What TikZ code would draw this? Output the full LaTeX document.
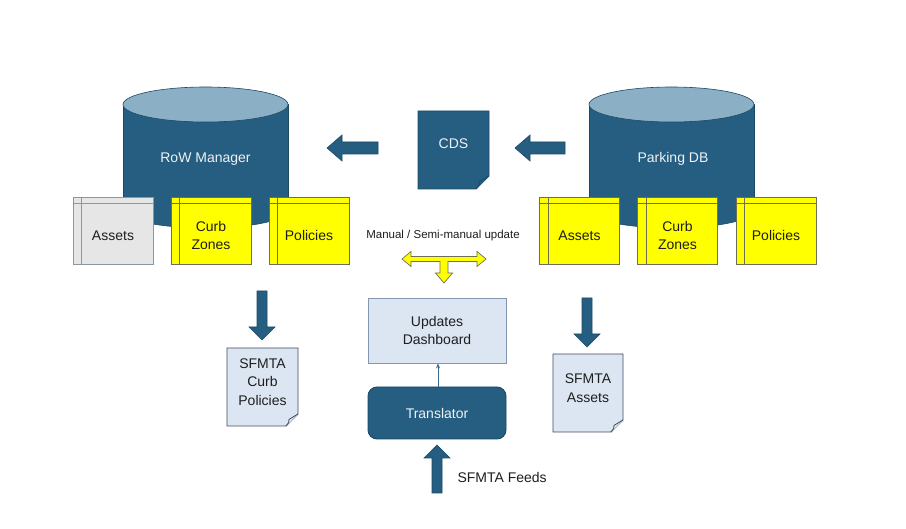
\documentclass[tikz,border=0pt]{standalone}
\usepackage{fontspec}
\setmainfont{Liberation Sans}
\usetikzlibrary{arrows.meta}
\definecolor{dblue}{HTML}{255E80}
\definecolor{dblueline}{HTML}{1C4A66}
\definecolor{topblue}{HTML}{8BB0C6}
\definecolor{docblue}{HTML}{DCE6F2}
\definecolor{docline}{HTML}{3E4E60}
\definecolor{dashline}{HTML}{8497B0}
\definecolor{ylw}{HTML}{FFFF00}
\definecolor{ylwline}{HTML}{6E6E55}
\definecolor{gryfill}{HTML}{E6E6E6}
\definecolor{gryline}{HTML}{8A98A6}
\definecolor{txt}{HTML}{1E1E1E}
\tikzset{
  mainfont/.style={font=\fontsize{14}{18.5}\selectfont},
  tablebox/.style={draw, line width=0.9pt, minimum width=80pt, minimum height=67pt, inner sep=0pt},
  yellowbox/.style={tablebox, fill=ylw, draw=ylwline},
  graybox/.style={tablebox, fill=gryfill, draw=gryline},
  tabletext/.style={mainfont, text=txt, align=center},
  blockarrow/.style={fill=dblue, draw=dblueline, line width=0.6pt},
  dbtext/.style={mainfont, text=white!92!dblue},
  doctext/.style={mainfont, text=txt, align=center},
}
\newcommand{\tablelines}[3]{% node, colour, text
  \draw[#2, line width=0.9pt] ([yshift=-7pt]#1.north west) -- ([yshift=-7pt]#1.north east);
  \draw[#2, line width=0.9pt] ([xshift=9pt]#1.north west) -- ([xshift=9pt]#1.south west);
  \node[tabletext] (#1-t) at ([yshift=-5pt]#1.center) {#3};
}
\newcommand{\cylinder}[2]{% center x, name
  \fill[dblue] (#1,210.5) ellipse [x radius=82.5, y radius=17.5];
  \draw[dblueline, line width=0.6pt] (#1,210.5) ellipse [x radius=82.5, y radius=17.5];
  \fill[dblue] (#1-82.5,104.5) rectangle (#1+82.5,210.5);
  \draw[dblueline, line width=0.6pt] (#1-82.5,104.5) -- (#1-82.5,210.5);
  \draw[dblueline, line width=0.6pt] (#1+82.5,104.5) -- (#1+82.5,210.5);
  \filldraw[fill=topblue, draw=dblueline, line width=0.6pt] (#1,104.5) ellipse [x radius=82.5, y radius=17.5];
}
\newcommand{\docshape}[6]{% x1,y1,x2,y2,fold,style
  \filldraw[#6] (#1,#2) -- (#3,#2) -- (#3,#4-#5) -- (#3-#5,#4) -- (#1,#4) -- cycle;
  \filldraw[#6] (#3,#4-#5) .. controls (#3-0.35*#5,#4-0.75*#5) .. (#3-0.75*#5,#4-0.55*#5)
     .. controls (#3-0.75*#5,#4-0.3*#5) .. (#3-#5,#4);
}
\begin{document}
\begin{tikzpicture}[x=1pt,y=-1pt]
\useasboundingbox[fill=white] (0,0) rectangle (906,529);

% cylinders
\cylinder{205.5}{rowcyl}
\cylinder{671.5}{pdbcyl}
\node[dbtext] (rowm) at (205.5,159) {RoW Manager};
\node[dbtext] (pdb) at (673,159) {Parking DB};

% left tables
\node[graybox] (lassets) at (113,230.5) {};
\node[yellowbox] (lcurb) at (211,230.5) {};
\node[yellowbox] (lpol) at (309,230.5) {};
\tablelines{lassets}{gryline}{Assets}
\tablelines{lcurb}{ylwline}{Curb\\Zones}
\tablelines{lpol}{ylwline}{Policies}

% right tables
\node[yellowbox] (rassets) at (579.5,230.5) {};
\node[yellowbox] (rcurb) at (677.5,230.5) {};
\node[yellowbox] (rpol) at (776,230.5) {};
\tablelines{rassets}{ylwline}{Assets}
\tablelines{rcurb}{ylwline}{Curb\\Zones}
\tablelines{rpol}{ylwline}{Policies}

% CDS document
\docshape{418}{111}{489}{189}{13}{fill=dblue, draw=dblueline, line width=0.8pt}
\node[dbtext] (cds) at (453.5,144) {CDS};

% block arrows top
\path[blockarrow] (327,148) -- (342,135) -- (342,142) -- (378,142) -- (378,154) -- (342,154) -- (342,161) -- cycle;
\path[blockarrow] (515,148) -- (530,135) -- (530,142) -- (565,142) -- (565,154) -- (530,154) -- (530,161) -- cycle;

% manual update
\node[font=\fontsize{11.5}{13}\selectfont, text=txt] (manual) at (443,236) {Manual / Semi-manual update};
\path[fill=ylw, draw=ylwline, line width=0.7pt]
  (402,259) -- (411,251.5) -- (411,256.5) -- (477,256.5) -- (477,251.5) -- (486,259) -- (477,266.5) -- (477,261.5)
  -- (448,261.5) -- (448,273) -- (452.5,273) -- (444,283) -- (435.5,273) -- (440,273) -- (440,261.5)
  -- (411,261.5) -- (411,266.5) -- cycle;

% down arrows
\path[blockarrow] (257,291) -- (267,291) -- (267,327) -- (275,327) -- (262,340) -- (249,327) -- (257,327) -- cycle;
\path[blockarrow] (582,298) -- (592,298) -- (592,334) -- (600,334) -- (587,347) -- (574,334) -- (582,334) -- cycle;

% SFMTA documents
\docshape{227}{348}{298}{426}{12}{fill=docblue, draw=docline, line width=0.8pt}
\node[doctext] (curbpol) at (262.5,382) {SFMTA\\Curb\\Policies};
\docshape{553}{354}{623}{432}{12}{fill=docblue, draw=docline, line width=0.8pt}
\node[doctext] (sfassets) at (588,388) {SFMTA\\Assets};

% dashboard and translator
\node[draw=dashline, fill=docblue, line width=0.9pt, minimum width=138pt, minimum height=65pt, inner sep=0pt,
      mainfont, text=txt, align=center] (dash) at (437,330.5) {Updates\\Dashboard};
\node[draw=dblueline, fill=dblue, rounded corners=9pt, line width=0.9pt, minimum width=138pt, minimum height=52pt,
      inner sep=0pt, dbtext] (trans) at (437,413) {Translator};
\draw[dblue!80!dashline, line width=0.8pt, -{Stealth[length=5pt,width=4pt]}] ([xshift=1pt]trans.north) -- ([xshift=1pt]dash.south);

% feeds arrow
\path[blockarrow] (432,493) -- (442,493) -- (442,458) -- (450,458) -- (437,445) -- (424,458) -- (432,458) -- cycle;
\node[mainfont, text=txt, anchor=west] (feeds) at (454,477) {SFMTA Feeds};
\end{tikzpicture}
\end{document}
